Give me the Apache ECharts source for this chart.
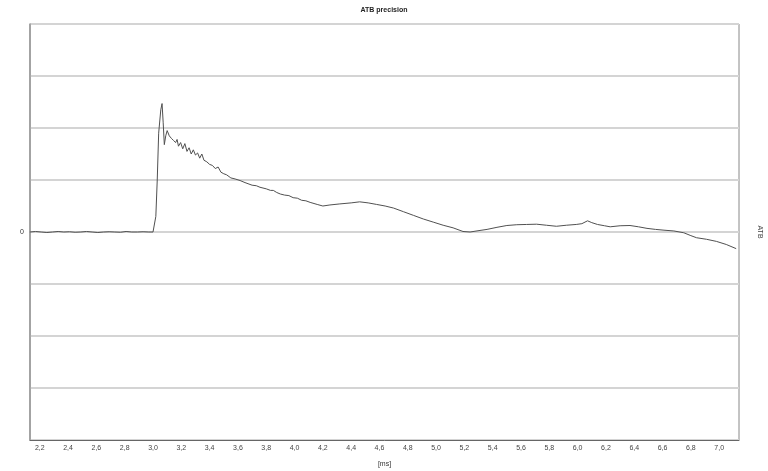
<!DOCTYPE html>
<html>
<head>
<meta charset="utf-8">
<script src="https://cdn.jsdelivr.net/npm/echarts@6/dist/echarts.min.js"></script>
<style>html,body{margin:0;padding:0;background:#fff}#c{width:768px;height:471px}</style>
</head>
<body>
<div id="c"></div>
<script>
var xTicks = [2.2,2.4,2.6,2.8,3.0,3.2,3.4,3.6,3.8,4.0,4.2,4.4,4.6,4.8,5.0,5.2,5.4,5.6,5.8,6.0,6.2,6.4,6.6,6.8,7.0];
var timeMs = [2.13,2.17,2.21,2.25,2.29,2.33,2.37,2.41,2.45,2.49,2.53,2.57,2.61,2.65,2.69,2.73,2.77,2.81,2.85,2.89,2.93,2.97,3.00,3.01,3.02,3.03,3.04,3.055,3.064,3.072,3.08,3.09,3.10,3.115,3.13,3.145,3.16,3.17,3.18,3.195,3.21,3.225,3.24,3.255,3.27,3.285,3.30,3.315,3.33,3.345,3.36,3.38,3.40,3.42,3.44,3.46,3.48,3.50,3.52,3.55,3.58,3.615,3.65,3.70,3.73,3.756,3.80,3.83,3.85,3.874,3.90,3.93,3.96,3.99,4.02,4.05,4.08,4.11,4.16,4.20,4.25,4.32,4.40,4.46,4.52,4.58,4.64,4.70,4.77,4.84,4.91,4.98,5.05,5.12,5.19,5.24,5.31,5.36,5.43,5.50,5.57,5.64,5.71,5.78,5.85,5.92,5.99,6.03,6.07,6.10,6.14,6.19,6.23,6.30,6.37,6.43,6.49,6.55,6.61,6.68,6.75,6.80,6.84,6.91,6.98,7.05,7.12];
var atbValues = [0.0,0.01,0.0,-0.01,0.0,0.01,0.0,0.005,-0.005,0.0,0.01,0.0,-0.01,0.0,0.005,0.0,-0.005,0.01,0.0,0.0,0.005,0.0,0.0,0.01,0.3,1.0,1.9,2.35,2.47,2.1,1.68,1.85,1.95,1.85,1.80,1.76,1.72,1.78,1.65,1.72,1.60,1.70,1.55,1.62,1.50,1.58,1.48,1.52,1.42,1.50,1.38,1.35,1.30,1.28,1.22,1.25,1.15,1.12,1.10,1.04,1.02,0.99,0.95,0.90,0.89,0.86,0.83,0.80,0.80,0.76,0.73,0.71,0.70,0.66,0.65,0.61,0.60,0.57,0.53,0.50,0.52,0.54,0.56,0.58,0.56,0.53,0.50,0.46,0.39,0.32,0.25,0.19,0.13,0.08,0.01,0.0,0.03,0.05,0.09,0.125,0.14,0.145,0.15,0.13,0.11,0.13,0.145,0.16,0.215,0.18,0.145,0.12,0.10,0.12,0.125,0.10,0.07,0.05,0.035,0.02,-0.015,-0.07,-0.11,-0.14,-0.18,-0.24,-0.32];

var seriesData = timeMs.map(function(t, i){ return [t, atbValues[i]]; });
var FONT = 'Liberation Sans';

var chart = echarts.init(document.getElementById('c'));
chart.setOption({
  animation: false,
  backgroundColor: '#fff',
  title: {
    text: 'ATB precision', left: 'center', top: 2,
    textStyle: {fontFamily: FONT, fontSize: 7, fontWeight: 'bold', color: '#222'}
  },
  grid: {left: 30, right: 29, top: 24, bottom: 31, outerBoundsMode: 'none', containLabel: false,
    show: true, borderColor: '#888', borderWidth: 1, backgroundColor: '#fff'},
  xAxis: {
    type: 'value', min: 2.131, max: 7.14,
    name: '[ms]', nameLocation: 'middle', nameGap: 21,
    nameTextStyle: {fontFamily: FONT, fontSize: 7, color: '#333'},
    axisLine: {show: true, onZero: false, lineStyle: {color: '#666'}},
    axisTick: {show: false},
    splitLine: {show: false},
    axisLabel: {
      customValues: xTicks, fontFamily: FONT, fontSize: 7, color: '#444', margin: 5,
      formatter: function(v){ return v.toFixed(1).replace('.', ','); }
    }
  },
  yAxis: [{
    type: 'value', min: -4, max: 4, interval: 1,
    axisLine: {show: true, lineStyle: {color: '#999', width: 1.5}},
    axisTick: {show: false},
    splitLine: {show: true, lineStyle: {color: '#d4d4d4', width: 2}},
    axisLabel: {fontFamily: FONT, fontSize: 7, color: '#333', margin: 6,
      formatter: function(v){ return v === 0 ? '0' : ''; }}
  }, {
    type: 'value', min: -4, max: 4, position: 'right',
    name: 'ATB', nameLocation: 'middle', nameRotate: -90, nameGap: 17,
    nameTextStyle: {fontFamily: FONT, fontSize: 7, color: '#444'},
    axisLine: {show: false}, axisTick: {show: false}, axisLabel: {show: false}, splitLine: {show: false}
  }],
  series: [{
    type: 'line', data: seriesData, showSymbol: false, symbol: 'none',
    lineStyle: {color: '#505050', width: 1}
  }]
});
</script>
</body>
</html>
